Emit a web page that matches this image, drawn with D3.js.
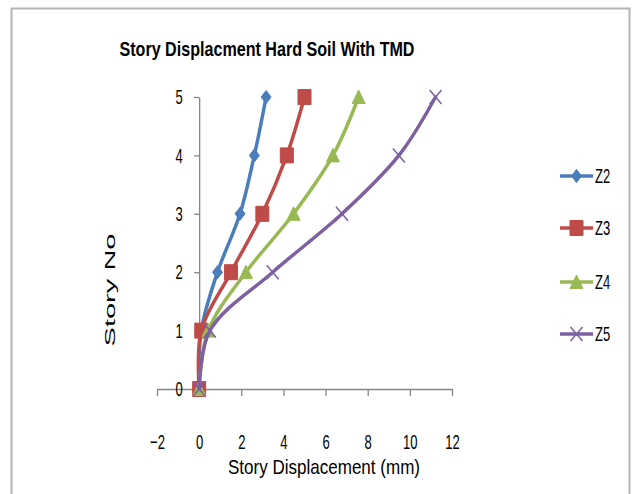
<!DOCTYPE html>
<html>
<head>
<meta charset="utf-8">
<script src="https://cdn.jsdelivr.net/npm/d3@7"></script>
<style>
  html, body { margin: 0; padding: 0; background: #fff; }
  svg { display: block; }
  text { font-family: "Liberation Sans", Arial, sans-serif; fill: #000; }
</style>
</head>
<body>
<svg id="chart" width="637" height="494"></svg>
<script>
'use strict';

// story levels (y) and displacement per series (x, mm)
var storyNo = [0, 1, 2, 3, 4, 5];
var z2 = [0, 0.1, 0.87, 1.94, 2.62, 3.18];
var z3 = [0, 0.1, 1.51, 3.0, 4.16, 5.0];
var z4 = [0, 0.43, 2.22, 4.48, 6.35, 7.57];
var z5 = [0, 0.51, 3.49, 6.78, 9.48, 11.22];
var seriesNames = ['Z2', 'Z3', 'Z4', 'Z5'];
var xTicks = [-2, 0, 2, 4, 6, 8, 10, 12];
var yTicks = [0, 1, 2, 3, 4, 5];

var colors = ['#4a7ebb', '#be4b48', '#98b954', '#7d60a0'];
var shapes = ['diamond', 'square', 'triangle', 'cross'];
var squish = 0.62;

var svg = d3.select('#chart');

// outer frame
svg.append('path')
  .attr('d', 'M11.5,494 V8.5 H629.5 V494')
  .attr('fill', 'none')
  .attr('stroke', '#b4b4b4')
  .attr('stroke-width', 2);

var x = d3.scaleLinear().domain([-2, 12]).range([157, 452]);
var y = d3.scaleLinear().domain([0, 5]).range([389, 97]);

// title
svg.append('text')
  .attr('x', 267).attr('y', 56)
  .attr('text-anchor', 'middle')
  .attr('font-size', 21)
  .attr('font-weight', 'bold')
  .attr('textLength', 295)
  .attr('lengthAdjust', 'spacingAndGlyphs')
  .text('Story Displacment Hard Soil With TMD');

// x axis sits on y = 0
var gx = svg.append('g')
  .attr('transform', 'translate(0,' + y(0) + ')')
  .call(d3.axisBottom(x).tickValues(xTicks).tickSize(7).tickSizeOuter(0).tickPadding(38).tickFormat(d3.format('d')));

var gy = svg.append('g')
  .attr('transform', 'translate(' + x(0) + ',0)')
  .call(d3.axisLeft(y).tickValues(yTicks).tickSize(5).tickSizeOuter(0).tickPadding(10).tickFormat(d3.format('d')));

[gx, gy].forEach(function(g) {
  g.select('.domain').attr('stroke', '#868686').attr('stroke-width', 1.3);
  g.selectAll('.tick line').attr('stroke', '#868686').attr('stroke-width', 1.3);
  g.selectAll('.tick text')
    .attr('font-size', 21)
    .attr('font-family', '"Liberation Sans", Arial, sans-serif')
    .attr('fill', '#000');
});
gx.selectAll('.tick text').attr('transform', 'scale(' + squish + ',1)');
gy.selectAll('.tick text')
  .attr('text-anchor', 'middle')
  .attr('transform', 'scale(' + squish + ',1)')
  .attr('x', -20 / squish);

// axis titles
svg.append('text')
  .attr('x', 324).attr('y', 474)
  .attr('text-anchor', 'middle')
  .attr('font-size', 21)
  .attr('textLength', 192)
  .attr('lengthAdjust', 'spacingAndGlyphs')
  .text('Story Displacement (mm)');

svg.append('text')
  .attr('transform', 'translate(115,290) rotate(-90)')
  .attr('text-anchor', 'middle')
  .attr('font-size', 14.5)
  .attr('textLength', 113)
  .attr('lengthAdjust', 'spacingAndGlyphs')
  .text('Story No');

function markerPath(shape) {
  if (shape === 'diamond') return 'M0,-6.5 L5,0 L0,6.5 L-5,0 Z';
  if (shape === 'square') return 'M-6.5,-7.5 H6.5 V7.5 H-6.5 Z';
  if (shape === 'triangle') return 'M0,-7 L6.5,6.5 L-6.5,6.5 Z';
  return 'M-6,-7 L6,7 M6,-7 L-6,7';
}

function drawMarker(g, shape, color, cx, cy) {
  var p = g.append('path')
    .attr('transform', 'translate(' + cx + ',' + cy + ')')
    .attr('d', markerPath(shape));
  if (shape === 'cross') {
    p.attr('fill', 'none').attr('stroke', color).attr('stroke-width', 1.5);
  } else {
    p.attr('fill', color).attr('stroke', color).attr('stroke-width', 1);
  }
}

var line = d3.line()
  .x(function(d) { return x(d[0]); })
  .y(function(d) { return y(d[1]); })
  .curve(d3.curveCatmullRom.alpha(0.5));

var allSeries = [z2, z3, z4, z5];
allSeries.forEach(function(vals, i) {
  var pts = vals.map(function(v, j) { return [v, storyNo[j]]; });
  var g = svg.append('g');
  g.append('path')
    .attr('d', line(pts))
    .attr('fill', 'none')
    .attr('stroke', colors[i])
    .attr('stroke-width', 3.5)
    .attr('stroke-linejoin', 'round')
    .attr('stroke-linecap', 'round');
  pts.forEach(function(p) {
    drawMarker(g, shapes[i], colors[i], x(p[0]), y(p[1]));
  });
});

// legend
var legendY = [176, 228, 282, 334];
seriesNames.forEach(function(name, i) {
  var g = svg.append('g');
  g.append('line')
    .attr('x1', 560).attr('x2', 593)
    .attr('y1', legendY[i]).attr('y2', legendY[i])
    .attr('stroke', colors[i])
    .attr('stroke-width', 3.5);
  drawMarker(g, shapes[i], colors[i], 576.5, legendY[i]);
  g.append('text')
    .attr('transform', 'translate(595,' + (legendY[i] + 7) + ') scale(' + squish + ',1)')
    .attr('font-size', 21)
    .text(name);
});
</script>
</body>
</html>
